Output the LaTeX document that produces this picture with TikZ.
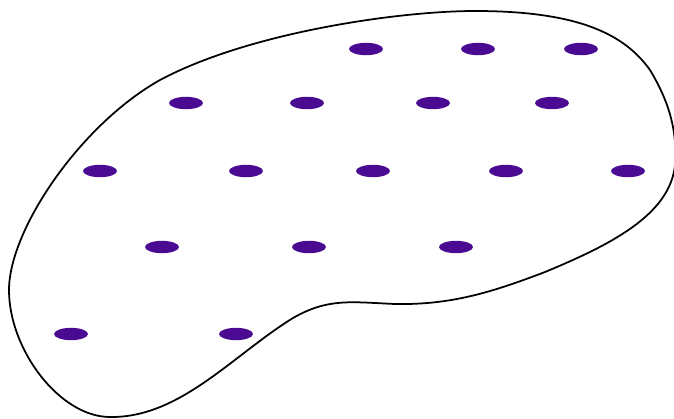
\documentclass[tikz,border=0pt]{standalone}
\usepackage{tikz}
\usetikzlibrary{shapes.geometric}
\definecolor{purple700}{HTML}{4A0A91}
\tikzset{
  dot/.style   ={ellipse, fill=purple700, draw=none, inner sep=0pt,
                 minimum width=1.02cm, minimum height=0.37cm},
  blob/.style  ={draw=black, line width=1.5pt}
}

\begin{document}
\begin{tikzpicture}[x=0.03cm, y=-0.03cm]
\useasboundingbox (0,0) rectangle (674,418);

% outline of the set
\draw[blob] (475,11) .. controls (580,11) and (625,35) .. (650,70)
  .. controls (665,95) and (678,125) .. (675,165)
  .. controls (670,215) and (610,245) .. (545,272)
  .. controls (490,293) and (450,305) .. (395,304)
  .. controls (350,302) and (328,298) .. (293,318)
  .. controls (233,355) and (180,418) .. (110,417)
  .. controls (60,417) and (9,350) .. (9,290)
  .. controls (9,230) and (80,125) .. (160,80)
  .. controls (250,32) and (400,11) .. cycle;

% elements
\foreach \n/\x/\y in {a/366/49, b/478/49, c/581/49,
                      d/186/103, e/307/103, f/433/103, g/552/103,
                      h/100/171, i/246/171, j/373/171, k/506/171, l/628/171,
                      m/162/247, n/309/247, o/456/247,
                      p/71/334, q/236/334}
  \node[dot] (\n) at (\x,\y) {};
\end{tikzpicture}
\end{document}
